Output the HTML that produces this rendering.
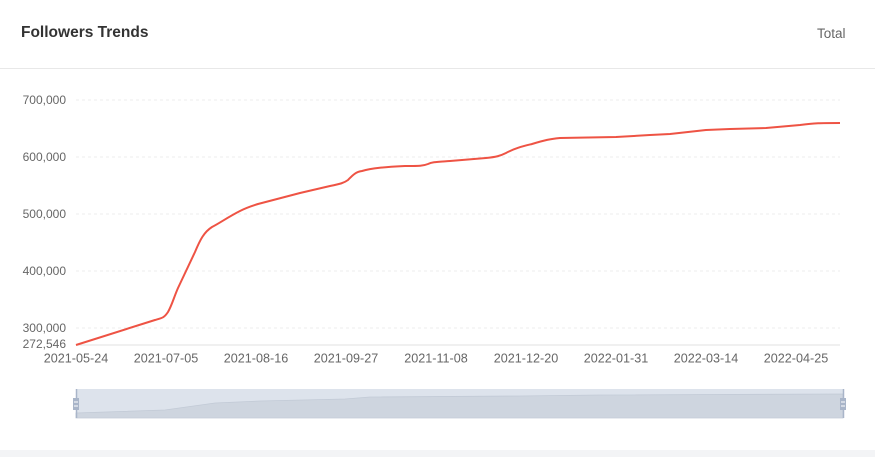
<!DOCTYPE html>
<html><head><meta charset="utf-8"><style>
body{margin:0;width:875px;height:457px;background:#fff;font-family:"Liberation Sans",sans-serif;overflow:hidden;position:relative}
.t{position:absolute;left:21px;top:24px;font-size:15.5px;font-weight:bold;color:#333}
.r{position:absolute;left:817px;top:26px;font-size:13.5px;color:#666}
.hr{position:absolute;left:0;top:68px;width:875px;height:1px;background:#e8e8e8}
.bot{position:absolute;left:0;top:450px;width:875px;height:7px;background:#f3f4f6}
</style></head><body>
<div class="t">Followers Trends</div>
<div class="r">Total</div>
<div class="hr"></div>
<svg width="875" height="457" style="position:absolute;left:0;top:0">
<g stroke="#eee" stroke-dasharray="3,3">
<line x1="76" x2="840" y1="100" y2="100"/><line x1="76" x2="840" y1="157" y2="157"/>
<line x1="76" x2="840" y1="214" y2="214"/><line x1="76" x2="840" y1="271" y2="271"/>
<line x1="76" x2="840" y1="328" y2="328"/></g>
<line x1="76" x2="840" y1="345" y2="345" stroke="#e0e0e0"/>
<g font-size="12" fill="#666" text-anchor="end">
<text x="66" y="104">700,000</text><text x="66" y="161">600,000</text>
<text x="66" y="218">500,000</text><text x="66" y="275">400,000</text>
<text x="66" y="332">300,000</text><text x="66" y="348">272,546</text></g>
<g font-size="12.6" fill="#666" text-anchor="middle">
<text x="76" y="362.5">2021-05-24</text><text x="166" y="362.5">2021-07-05</text>
<text x="256" y="362.5">2021-08-16</text><text x="346" y="362.5">2021-09-27</text>
<text x="436" y="362.5">2021-11-08</text><text x="526" y="362.5">2021-12-20</text>
<text x="616" y="362.5">2022-01-31</text><text x="706" y="362.5">2022-03-14</text>
<text x="796" y="362.5">2022-04-25</text></g>
<path fill="none" stroke="#ee5344" stroke-width="2" stroke-linejoin="round" d="M76,345 L155,320 C162,318 164,318 168,312 C172,305 174,297 178,288 L195,252 C200,240 204,232 212,227 C220,223 228,217 240,211 C248,207 252,206 258,204 L300,193 L330,186 C340,184 344,183 348,180 C352,176 355,172 362,171 C372,168 385,167 405,166 C420,166 423,166 428,164 C432,162 436,162 450,161 L486,158 C496,157 500,156 506,153 C515,148 524,146 532,144 C545,140 550,139 560,138 L616,137 L650,135 L670,134 L706,130 L730,129 L766,128 L800,125 C815,123 820,123 840,123"/>
<rect x="76" y="389" width="767" height="29" fill="#dde3ec"/>
<path d="M76,413 L165,410 L215,403 L260,401 L345,399 L370,397 L520,396 L600,395 L843,394 L843,418 L76,418Z" fill="#ced5df" stroke="#c2cad6" stroke-width="0.8"/>
<line x1="76.5" y1="389" x2="76.5" y2="418" stroke="#a9b5c9" stroke-width="1.5"/>
<line x1="843.5" y1="389" x2="843.5" y2="418" stroke="#a9b5c9" stroke-width="1.5"/>
<rect x="73" y="398" width="6" height="12" fill="#a9b5c9"/><rect x="840" y="398" width="6" height="12" fill="#a9b5c9"/>
<line x1="74" x2="78" y1="402" y2="402" stroke="#fff"/><line x1="74" x2="78" y1="406" y2="406" stroke="#fff"/>
<line x1="841" x2="845" y1="402" y2="402" stroke="#fff"/><line x1="841" x2="845" y1="406" y2="406" stroke="#fff"/>
</svg>
<div class="bot"></div>
</body></html>
